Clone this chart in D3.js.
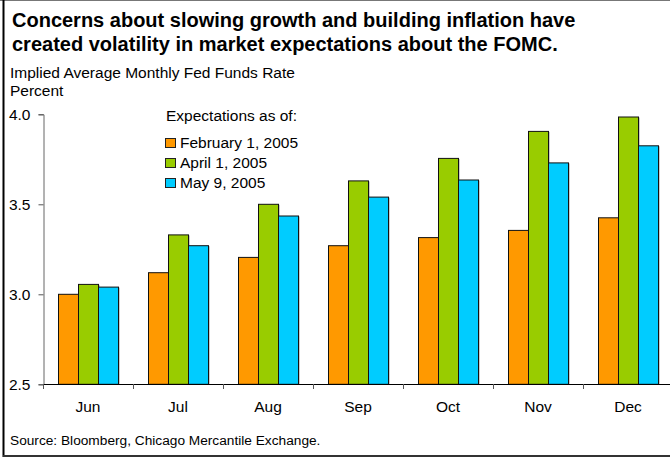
<!DOCTYPE html>
<html><head><meta charset="utf-8">
<script src="https://cdn.jsdelivr.net/npm/d3@7"></script>
<style>body{margin:0;background:#fff}svg{display:block}text{font-family:"Liberation Sans",Arial,sans-serif;fill:#000}</style>
</head><body>
<script>
const months = ["Jun","Jul","Aug","Sep","Oct","Nov","Dec"];
const seriesNames = ["February 1, 2005","April 1, 2005","May 9, 2005"];
const feb1 = [3.00,3.12,3.205,3.27,3.315,3.355,3.425];
const apr1 = [3.055,3.33,3.50,3.63,3.755,3.905,3.985];
const may9 = [3.04,3.27,3.435,3.54,3.635,3.73,3.825];
const yTicks = [2.5,3.0,3.5,4.0];
const colors = ["#FF9900","#99CC00","#00CCFF"];
const titleLines = ["Concerns about slowing growth and building inflation have","created volatility in market expectations about the FOMC."];

const W=670,H=458;
const svg=d3.select("body").append("svg").attr("width",W).attr("height",H);
svg.append("rect").attr("width",W).attr("height",H).attr("fill","#fff");

// frame
svg.append("line").attr("x1",0).attr("x2",W).attr("y1",0.5).attr("y2",0.5).attr("stroke","#777").attr("stroke-width",1);
svg.append("line").attr("x1",3.5).attr("x2",3.5).attr("y1",0).attr("y2",457).attr("stroke","#000").attr("stroke-width",2);
svg.append("line").attr("x1",3).attr("x2",W).attr("y1",456).attr("y2",456).attr("stroke","#333").attr("stroke-width",2);

svg.selectAll("text.title").data(titleLines).enter().append("text")
  .attr("x",12).attr("y",(d,i)=>27+i*24).attr("font-size",20).attr("font-weight","bold").text(d=>d);
svg.append("text").attr("x",10).attr("y",78).attr("font-size",15.5).text("Implied Average Monthly Fed Funds Rate");
svg.append("text").attr("x",10).attr("y",96).attr("font-size",15.5).text("Percent");

const x0=d3.scaleBand().domain(months).range([43,673]).paddingInner(1/3).paddingOuter(1/6);
const x1=d3.scaleBand().domain(d3.range(3)).range([0,x0.bandwidth()]);
const y=d3.scaleLinear().domain([2.5,4.0]).range([384.3,114.3]);

const data=[feb1,apr1,may9];
const g=svg.append("g");
months.forEach((m,i)=>{
  data.forEach((s,k)=>{
    const bx=x0(m)+x1(k), by=y(s[i]), bh=y(2.5)-y(s[i]);
    g.append("rect").attr("x",bx+1.5).attr("y",by+0.5).attr("width",x1.bandwidth()).attr("height",bh-0.5).attr("fill","#999");
    g.append("rect").attr("x",bx+0.5).attr("y",by).attr("width",x1.bandwidth()).attr("height",bh)
      .attr("fill",colors[k]).attr("stroke","#111").attr("stroke-width",1);
  });
});

// y axis
const ya=svg.append("g").attr("transform","translate(43.5,0)")
  .call(d3.axisLeft(y).tickValues(yTicks).tickFormat(d3.format(".1f")).tickSize(5).tickPadding(8));
ya.select(".domain").attr("stroke","#666");
ya.selectAll(".tick line").attr("stroke","#555");
ya.selectAll("text").attr("font-size",15.5).attr("font-family","Liberation Sans, Arial, sans-serif").attr("fill","#000");

// x axis
svg.append("line").attr("x1",43).attr("x2",W).attr("y1",384.5).attr("y2",384.5).attr("stroke","#000");
const step=x0.step(), off=x0.paddingOuter()*step;
svg.selectAll("line.xt").data(months).enter().append("line")
  .attr("x1",d=>Math.round(x0(d)-off)+0.5).attr("x2",d=>Math.round(x0(d)-off)+0.5)
  .attr("y1",384).attr("y2",389).attr("stroke","#555");
svg.selectAll("text.xl").data(months).enter().append("text")
  .attr("x",d=>x0(d)+x0.bandwidth()/2).attr("y",412).attr("text-anchor","middle").attr("font-size",15.5).text(d=>d);

// legend
svg.append("text").attr("x",166).attr("y",121).attr("font-size",15.5).text("Expectations as of:");
seriesNames.forEach((n,k)=>{
  svg.append("rect").attr("x",165.5).attr("y",138.5+k*20).attr("width",10).attr("height",9)
    .attr("fill",colors[k]).attr("stroke","#222");
  svg.append("text").attr("x",180).attr("y",148+k*20).attr("font-size",15.5).text(n);
});

svg.append("text").attr("x",10).attr("y",445).attr("font-size",13.7).text("Source: Bloomberg, Chicago Mercantile Exchange.");
</script>
</body></html>
